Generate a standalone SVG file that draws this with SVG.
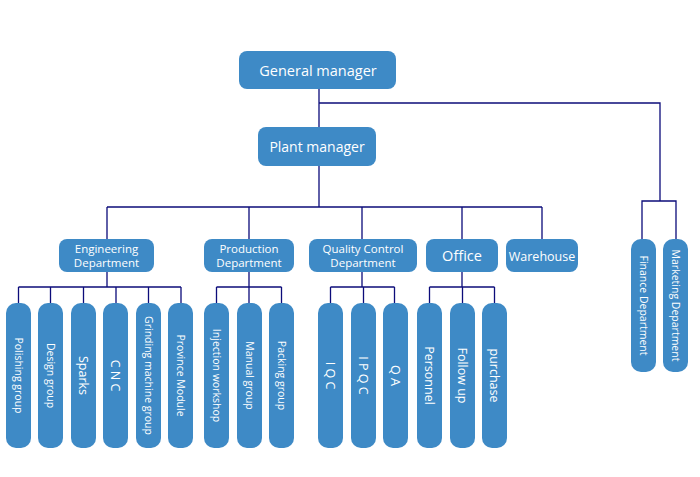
<svg xmlns="http://www.w3.org/2000/svg" width="700" height="477" viewBox="0 0 700 477">
<style>
.b{fill:#3e8ac6}
.t{fill:#fff;font-family:"Open Sans","Noto Sans","DejaVu Sans",sans-serif;text-anchor:middle;dominant-baseline:central}
.c{fill:none;stroke:#0c0c7a;stroke-width:1.3}
.v{font-size:10.5px}
.m{font-size:12.5px}
.d{font-size:11.5px}
</style>
<rect width="700" height="477" fill="#fff"/>
<g id="connectors" class="c">
<path d="M319 89V127M319 103H660V201M642 239V201H676V239"/>
<path d="M319 166V207M107 207H542M107 207V239M249 207V239M362 207V239M462 207V239M542 207V239"/>
<path d="M107 272V287M18.5 287H181M18.5 287V303M50.5 287V303M83.5 287V303M116 287V303M148.5 287V303M181 287V303"/>
<path d="M249 272V287M216.5 287H281.5M216.5 287V303M249 287V303M281.5 287V303"/>
<path d="M362 272V287M330.5 287H394.5M330.5 287V303M363.5 287V303M394.5 287V303"/>
<path d="M462 272V287M429.5 287H494.5M429.5 287V303M462.5 287V303M494.5 287V303"/>
</g>
<g id="general-manager"><rect class="b" x="239" y="51" width="157" height="38" rx="8"/><text class="t" x="318" y="70" font-size="14.5">General manager</text></g>
<g id="plant-manager"><rect class="b" x="258" y="127" width="118" height="39" rx="8"/><text class="t" x="317" y="146.5" font-size="14">Plant manager</text></g>
<g id="engineering"><rect class="b" x="59" y="239" width="95" height="33" rx="8"/><text class="t d" x="106.5" y="248.5">Engineering</text><text class="t d" x="106.5" y="262.5">Department</text></g>
<g id="production"><rect class="b" x="204" y="239" width="90" height="33" rx="8"/><text class="t d" x="249" y="248.5">Production</text><text class="t d" x="249" y="262.5">Department</text></g>
<g id="quality"><rect class="b" x="309" y="239" width="108" height="33" rx="8"/><text class="t d" x="363" y="248.5">Quality Control</text><text class="t d" x="363" y="262.5">Department</text></g>
<g id="office"><rect class="b" x="426" y="239" width="72" height="33" rx="8"/><text class="t" x="462" y="255" font-size="14.5">Office</text></g>
<g id="warehouse"><rect class="b" x="506" y="239" width="72" height="33" rx="8"/><text class="t" x="542" y="256" font-size="12.5">Warehouse</text></g>
<g id="finance"><rect class="b" x="631" y="239" width="25" height="133" rx="10"/><text class="t v" transform="translate(643.5 305.5) rotate(90)">Finance Department</text></g>
<g id="marketing"><rect class="b" x="663" y="239" width="25" height="133" rx="10"/><text class="t v" transform="translate(675.5 305.5) rotate(90)">Marketing Department</text></g>
<g id="polishing"><rect class="b" x="6" y="303" width="25" height="145" rx="10"/><text class="t v" transform="translate(18.5 375.5) rotate(90)">Polishing group</text></g>
<g id="design"><rect class="b" x="38" y="303" width="25" height="145" rx="10"/><text class="t v" transform="translate(50.5 375.5) rotate(90)">Design group</text></g>
<g id="sparks"><rect class="b" x="71" y="303" width="25" height="145" rx="10"/><text class="t m" transform="translate(83.5 375.5) rotate(90)">Sparks</text></g>
<g id="cnc"><rect class="b" x="103" y="303" width="25" height="145" rx="10"/><text class="t m" transform="translate(115.5 375.5) rotate(90)">C N C</text></g>
<g id="grinding"><rect class="b" x="136" y="303" width="25" height="145" rx="10"/><text class="t v" transform="translate(148.5 375.5) rotate(90)">Grinding machine group</text></g>
<g id="province"><rect class="b" x="168" y="303" width="25" height="145" rx="10"/><text class="t v" transform="translate(180.5 375.5) rotate(90)">Province Module</text></g>
<g id="injection"><rect class="b" x="204" y="303" width="25" height="145" rx="10"/><text class="t v" transform="translate(216.5 375.5) rotate(90)">Injection workshop</text></g>
<g id="manual"><rect class="b" x="237" y="303" width="25" height="145" rx="10"/><text class="t v" transform="translate(249.5 375.5) rotate(90)">Manual group</text></g>
<g id="packing"><rect class="b" x="269" y="303" width="25" height="145" rx="10"/><text class="t v" transform="translate(281.5 375.5) rotate(90)">Packing group</text></g>
<g id="iqc"><rect class="b" x="318" y="303" width="25" height="145" rx="10"/><text class="t m" transform="translate(330.5 375.5) rotate(90)">I Q C</text></g>
<g id="ipqc"><rect class="b" x="351" y="303" width="25" height="145" rx="10"/><text class="t m" transform="translate(363.5 375.5) rotate(90)">I P Q C</text></g>
<g id="qa"><rect class="b" x="383" y="303" width="25" height="145" rx="10"/><text class="t m" transform="translate(395.5 375.5) rotate(90)">Q A</text></g>
<g id="personnel"><rect class="b" x="417" y="303" width="25" height="145" rx="10"/><text class="t m" transform="translate(429.5 375.5) rotate(90)">Personnel</text></g>
<g id="followup"><rect class="b" x="450" y="303" width="25" height="145" rx="10"/><text class="t m" transform="translate(462.5 375.5) rotate(90)">Follow up</text></g>
<g id="purchase"><rect class="b" x="482" y="303" width="25" height="145" rx="10"/><text class="t m" transform="translate(494.5 375.5) rotate(90)">purchase</text></g>
</svg>
